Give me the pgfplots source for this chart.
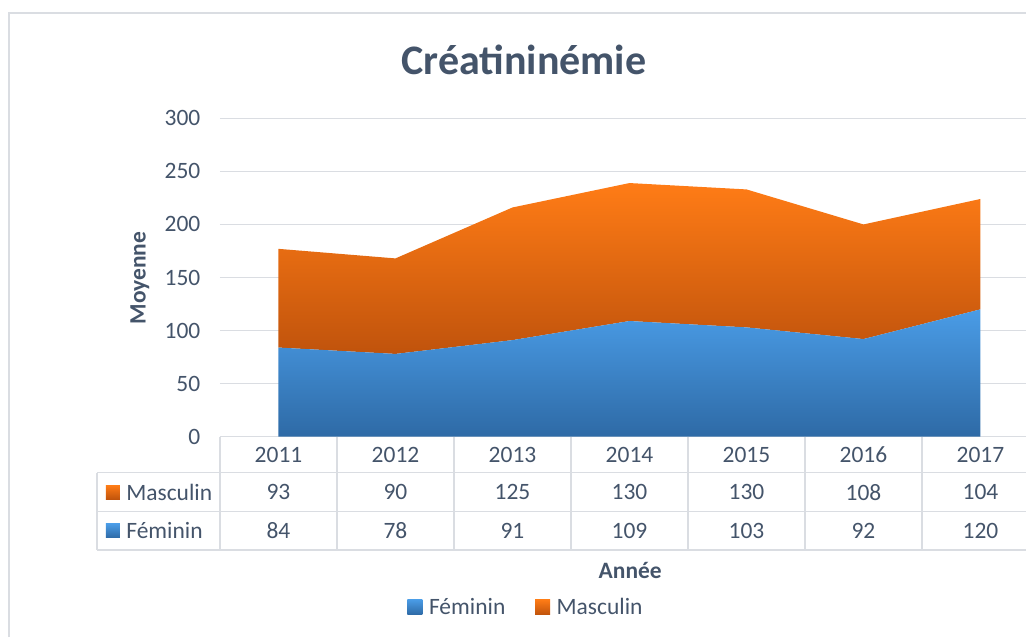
\documentclass[border=0pt]{standalone}
\usepackage{pgfplots}
\pgfplotsset{compat=1.18}
\usepackage{fontspec}
\setmainfont{Carlito}
\newlength\p
\setlength\p{0.75pt}
\definecolor{txt}{HTML}{44546A}
\definecolor{gridc}{HTML}{DADDE2}
\definecolor{orT}{HTML}{FF7C16}
\definecolor{orB}{HTML}{C0530C}
\definecolor{blT}{HTML}{4A9CE6}
\definecolor{blB}{HTML}{2E6AA6}
\newcommand{\tf}{\fontsize{17.6}{21}\selectfont}
% one cell of the data table: x, y, text
\newcommand{\cell}[3]{\node[txt, font=\tf] at (axis cs:#1,#2) {#3};}
\begin{document}
\begin{tikzpicture}
\begin{axis}[
  name=ax,
  scale only axis,
  width=806\p, height=318.4\p,
  xmin=0, xmax=6.889,
  ymin=0, ymax=300,
  ytick={0,50,...,300},
  xtick=\empty,
  ymajorgrids,
  grid style={gridc, line width=1.2\p},
  axis line style={draw=none},
  major tick length=0pt,
  tick label style={txt, font=\tf},
  yticklabel style={xshift=-15\p},
  /pgf/number format/assume math mode=true,
  clip=false,
  stack plots=y,
  legend columns=2,
  legend style={at={(axis description cs:0.38,-0.535)}, anchor=center,
    draw=none, fill=none, font=\tf\color{txt},
    /tikz/every odd column/.append style={column sep=4\p},
    /tikz/every even column/.append style={column sep=27\p}},
  legend image code/.code={\path[#1,draw=none] (0,-7.5\p) rectangle (15\p,7.5\p);},
]
\addplot[draw=none, top color=blT, bottom color=blB] coordinates {
  (0.5,84) (1.5,78) (2.5,91) (3.5,109) (4.5,103) (5.5,92) (6.5,120)
} \closedcycle;
\addlegendentry{Féminin}
\addplot[draw=none, top color=orT, bottom color=orB] coordinates {
  (0.5,93) (1.5,90) (2.5,125) (3.5,130) (4.5,130) (5.5,108) (6.5,104)
} \closedcycle;
\addlegendentry{Masculin}

% data table
\draw[gridc, line width=1.2\p] (axis cs:0,0) -- (axis cs:6.889,0);
\draw[gridc, line width=1.2\p] (axis cs:-1.051,-33.9) -- (axis cs:6.889,-33.9);
\draw[gridc, line width=1.2\p] (axis cs:-1.051,-70.7) -- (axis cs:6.889,-70.7);
\draw[gridc, line width=1.2\p] (axis cs:-1.051,-106.8) -- (axis cs:6.889,-106.8);
\draw[gridc, line width=1.2\p] (axis cs:-1.051,-33.9) -- (axis cs:-1.051,-106.8);
\pgfplotsinvokeforeach{0,...,6}{
  \draw[gridc, line width=1.2\p] (axis cs:#1,0) -- (axis cs:#1,-106.8);
}
\cell{0.5}{-17}{2011}\cell{1.5}{-17}{2012}\cell{2.5}{-17}{2013}\cell{3.5}{-17}{2014}
\cell{4.5}{-17}{2015}\cell{5.5}{-17}{2016}\cell{6.5}{-17}{2017}
\cell{0.5}{-52.4}{93}\cell{1.5}{-52.4}{90}\cell{2.5}{-52.4}{125}\cell{3.5}{-52.4}{130}
\cell{4.5}{-52.4}{130}\cell{5.5}{-52.4}{108}\cell{6.5}{-52.4}{104}
\cell{0.5}{-88.7}{84}\cell{1.5}{-88.7}{78}\cell{2.5}{-88.7}{91}\cell{3.5}{-88.7}{109}
\cell{4.5}{-88.7}{103}\cell{5.5}{-88.7}{92}\cell{6.5}{-88.7}{120}
\path[top color=orT, bottom color=orB] ([shift={(-7\p,-7\p)}]axis cs:-0.915,-52.4) rectangle ++(14\p,14\p);
\path[top color=blT, bottom color=blB] ([shift={(-7\p,-7\p)}]axis cs:-0.915,-88.7) rectangle ++(14\p,14\p);
\node[txt, font=\tf, anchor=west, inner sep=0pt] at (axis cs:-0.803,-52.4) {Masculin};
\node[txt, font=\tf, anchor=west, inner sep=0pt] at (axis cs:-0.803,-88.7) {Féminin};

% titles
\node[txt, font=\fontsize{31.5}{36}\selectfont\bfseries] at (axis description cs:0.377,1.183) {Créatininémie};
\node[txt, font=\tf\bfseries, rotate=90] at (axis description cs:-0.0993,0.498) {Moyenne};
\node[txt, font=\tf\bfseries] at (axis description cs:0.509,-0.419) {Année};
\end{axis}
\draw[gridc, line width=1.5\p] ([shift={(-211\p,-200.3\p)}]ax.south west) -- ([shift={(-211\p,423.7\p)}]ax.south west) -- ([shift={(806\p,423.7\p)}]ax.south west);
\pgfresetboundingbox
\path[use as bounding box] ([shift={(-220\p,-200.3\p)}]ax.south west) rectangle ([shift={(806\p,436.7\p)}]ax.south west);
\end{tikzpicture}
\end{document}
